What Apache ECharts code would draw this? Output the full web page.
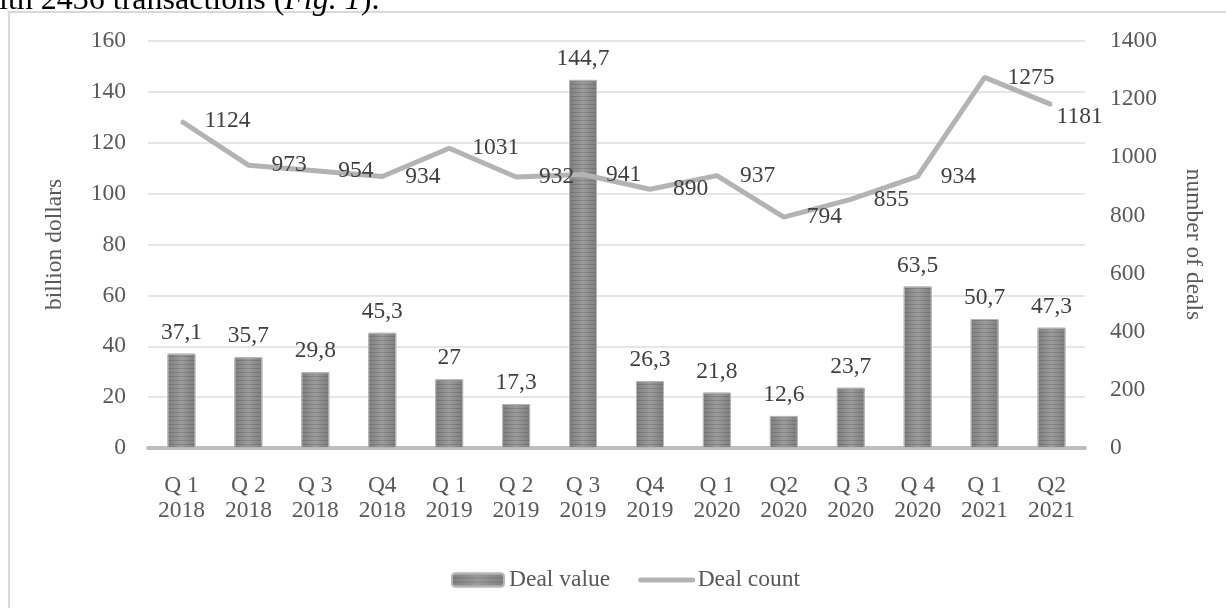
<!DOCTYPE html>
<html>
<head>
<meta charset="utf-8">
<script src="https://cdn.jsdelivr.net/npm/echarts@6/dist/echarts.min.js"></script>
<style>
  html, body { margin: 0; padding: 0; background: #fff; }
  #chart { width: 1226px; height: 608px; }
</style>
</head>
<body>
<div id="chart"></div>
<script>
//--------------------------------
// Data
//--------------------------------
const quarters = [
    'Q 1\n2018', 'Q 2\n2018', 'Q 3\n2018', 'Q4\n2018',
    'Q 1\n2019', 'Q 2\n2019', 'Q 3\n2019', 'Q4\n2019',
    'Q 1\n2020', 'Q2\n2020', 'Q 3\n2020', 'Q 4\n2020',
    'Q 1\n2021', 'Q2\n2021'
];
const dealValue = [37.1, 35.7, 29.8, 45.3, 27, 17.3, 144.7, 26.3, 21.8, 12.6, 23.7, 63.5, 50.7, 47.3];
const dealCount = [1124, 973, 954, 934, 1031, 932, 941, 890, 937, 794, 855, 934, 1275, 1181];

const serif = '"Liberation Serif", "DejaVu Serif", serif';
const textGray = '#595959';
const fs = 23.5;

//--------------------------------
// Chart
//--------------------------------
const myChart = echarts.init(document.getElementById('chart'));

// last count label sits below-right of its point in the original
let countData = dealCount.map((v, i) => {
    if (i === dealCount.length - 1) {
        return { value: v, label: { offset: [-18, 12] } };
    }
    return v;
});

let options = {
    backgroundColor: '#fff',
    animation: false,
    textStyle: { fontFamily: serif },
    graphic: [
        {
            type: 'rect',
            z: -10,
            shape: { x: 9, y: 12, width: 1300, height: 700 },
            style: { fill: 'none', stroke: '#d9d9d9', lineWidth: 2 }
        },
        {
            type: 'text',
            x: -1,
            y: 17,
            style: {
                text: 'ith 2436 transactions ({it|Fig. 1}).',
                font: '32px ' + serif,
                fill: '#000',
                verticalAlign: 'bottom',
                rich: {
                    it: { fontStyle: 'italic', fontSize: 32, fontFamily: serif, fill: '#000' }
                }
            }
        }
    ],
    grid: {
        left: 148,
        right: 141,
        top: 41,
        bottom: 160
    },
    legend: {
        left: 446,
        top: 563,
        itemWidth: 52,
        itemHeight: 13,
        itemGap: 28,
        textStyle: { fontFamily: serif, fontSize: fs, color: textGray },
        data: [
            'Deal value',
            {
                name: 'Deal count',
                itemStyle: { opacity: 0 },
                lineStyle: { width: 5, color: '#b3b3b3', cap: 'round' }
            }
        ]
    },
    xAxis: {
        type: 'category',
        data: quarters,
        axisLine: { show: true, lineStyle: { color: '#bfbfbf', width: 4 } },
        axisTick: { show: false },
        axisLabel: {
            color: textGray,
            fontFamily: serif,
            fontSize: fs,
            lineHeight: 25,
            margin: 25,
            interval: 0
        }
    },
    yAxis: [
        {
            type: 'value',
            min: 0,
            max: 160,
            interval: 20,
            name: 'billion dollars',
            nameLocation: 'middle',
            nameGap: 81,
            nameTextStyle: { color: textGray, fontFamily: serif, fontSize: fs },
            axisLine: { show: false },
            axisTick: { show: false },
            axisLabel: { color: textGray, fontFamily: serif, fontSize: fs, margin: 22 },
            splitLine: { lineStyle: { color: '#dedede', width: 1.5 } }
        },
        {
            type: 'value',
            min: 0,
            max: 1400,
            interval: 200,
            name: 'number of deals',
            nameLocation: 'middle',
            nameGap: 96,
            nameRotate: -90,
            nameTextStyle: { color: textGray, fontFamily: serif, fontSize: fs },
            axisLine: { show: false },
            axisTick: { show: false },
            axisLabel: {
                color: textGray,
                fontFamily: serif,
                fontSize: fs,
                margin: 25,
                formatter: (v) => String(v)
            },
            splitLine: { show: false }
        }
    ],
    series: [
        {
            name: 'Deal value',
            type: 'bar',
            yAxisIndex: 0,
            barWidth: 28,
            itemStyle: {
                color: new echarts.graphic.LinearGradient(0, 0, 1, 0, [
                    { offset: 0, color: '#7e7e7e' },
                    { offset: 0.5, color: '#9c9c9c' },
                    { offset: 1, color: '#7e7e7e' }
                ]),
                borderColor: '#b5b5b5',
                borderWidth: 1,
                decal: {
                    symbol: 'rect',
                    dashArrayX: [1, 0],
                    dashArrayY: [1, 3],
                    color: 'rgba(60,60,60,0.22)'
                }
            },
            label: {
                show: true,
                position: 'top',
                distance: 9,
                color: '#404040',
                fontFamily: serif,
                fontSize: fs,
                formatter: (p) => String(p.value).replace('.', ',')
            },
            data: dealValue
        },
        {
            name: 'Deal count',
            type: 'line',
            yAxisIndex: 1,
            symbol: 'circle',
            symbolSize: 2,
            lineStyle: { color: '#b3b3b3', width: 5 },
            itemStyle: { color: '#b3b3b3' },
            label: {
                show: true,
                position: 'right',
                distance: 22,
                color: '#404040',
                fontFamily: serif,
                fontSize: fs
            },
            z: 3,
            data: countData
        }
    ]
};

myChart.setOption(options);
</script>
</body>
</html>
